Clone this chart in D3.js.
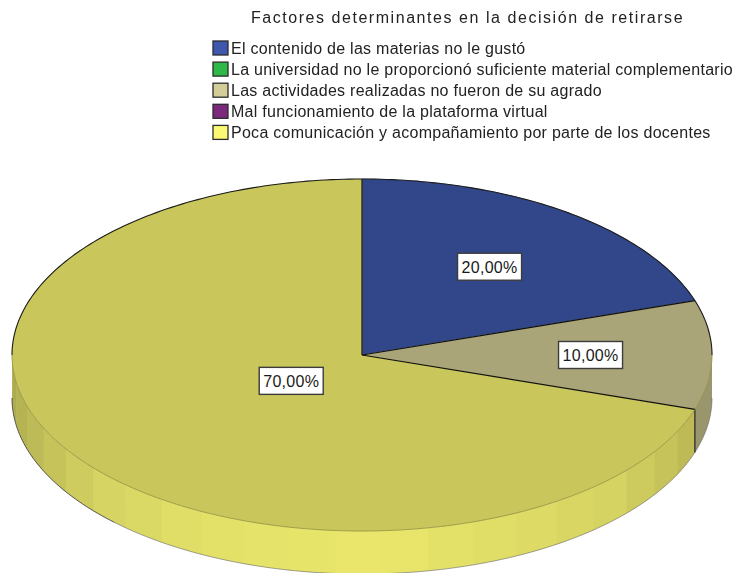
<!DOCTYPE html>
<html lang="es">

<head>
  <meta charset="UTF-8">
  <title>Factores determinantes en la decisión de retirarse</title>
  <style>
    html,
    body {
      margin: 0;
      padding: 0;
      background: #fff;
    }

    svg {
      display: block;
      font-family: "Liberation Sans", Arial, sans-serif;
      /* the reference is a slightly soft, resampled picture */
      filter: blur(0.35px);
    }
  </style>
  <script src="https://cdnjs.cloudflare.com/ajax/libs/d3/7.8.5/d3.min.js"></script>
</head>

<body>
  <svg id="chart" width="738" height="573"></svg>
  <script>
    //
    // Data
    //

    var title = 'Factores determinantes en la decisión de retirarse'
    var categories = [
      'El contenido de las materias no le gustó',
      'La universidad no le proporcionó suficiente material complementario',
      'Las actividades realizadas no fueron de su agrado',
      'Mal funcionamiento de la plataforma virtual',
      'Poca comunicación y acompañamiento por parte de los docentes'
    ]
    var values = [20, 0, 10, 0, 70]
    var colors = ['#3e58ac', '#2eb848', '#d3ce97', '#7c287d', '#fbf873']

    //
    // Layout
    //

    var cx = 362, cy = 355
    var rx = 350, ry = 176
    var depth = 43
    var facetStep = 252 / 33 // degrees per facet on the rim
    var topShade = 0.8
    // how far out each label sits, as a share of the radius
    var labelRadius = [0.62, 0, 0.653, 0, 0.25]

    var svg = d3.select('#chart')
    var deg = Math.PI / 180

    var pie = d3.pie().sort(null).value(function (d) { return d })
    var slices = pie(values)
    var arc = d3.arc().innerRadius(0).outerRadius(rx)

    // rim gets brighter towards the front of the pie
    var rimShade = d3.scaleLinear()
      .domain([90, 108, 135, 176, 207, 228, 243, 270])
      .range([0.71, 0.74, 0.85, 0.93, 0.905, 0.85, 0.78, 0.67])

    function shade(color, k) {
      var c = d3.rgb(color)
      return d3.rgb(c.r * k, c.g * k, c.b * k).formatHex()
    }

    function rimPoint(a) {
      return [cx + rx * Math.sin(a * deg), cy - ry * Math.cos(a * deg)]
    }

    function rimLine(a0, a1, dy) {
      return d3.range(a0, a1, 1).concat([a1]).map(function (a) {
        var p = rimPoint(a)
        return [p[0], p[1] + dy]
      })
    }

    function rimPath(a0, a1) {
      var top = rimLine(a0, a1, 0)
      var bottom = rimLine(a0, a1, depth).reverse()
      return d3.line()(top.concat(bottom)) + 'Z'
    }

    //
    // Rim
    //

    var rim = svg.append('g')

    slices.forEach(function (s, i) {
      var a0 = Math.max(s.startAngle / deg, 90)
      var a1 = Math.min(s.endAngle / deg, 270)
      if (a1 <= a0) return
      var starts = d3.range(a0, a1, facetStep)
      if (i === 2) starts = [a0] // the small slice has one flat tone
      starts.forEach(function (a, j) {
        var end = j === starts.length - 1 ? a1 : starts[j + 1]
        // run each facet a bit under the next one so no seam shows
        rim.append('path')
          .attr('d', rimPath(a, Math.min(end + 0.4, a1)))
          .attr('fill', shade(colors[i], rimShade((a + end) / 2)))
      })
    })

    // outer line of the rim, heavier towards the left end
    rim.append('path')
      .attr('d', d3.line()(rimLine(90, 225, depth)))
      .attr('fill', 'none')
      .attr('stroke', '#666')
      .attr('stroke-width', 0.6)
    rim.append('path')
      .attr('d', d3.line()(rimLine(225, 270, depth)))
      .attr('fill', 'none')
      .attr('stroke', '#333')
      .attr('stroke-width', 0.8)

    // edge where the yellow slice starts
    var edgeTop = rimPoint(slices[4].startAngle / deg)
    rim.append('path')
      .attr('d', d3.line()([edgeTop, [edgeTop[0], edgeTop[1] + depth]]))
      .attr('stroke', '#222')
      .attr('stroke-width', 1.2)

    //
    // Top face
    //

    var face = svg.append('g')
      .attr('transform', 'translate(' + cx + ',' + cy + ') scale(1,' + ry / rx + ')')

    face.selectAll('path')
      .data(slices.filter(function (s) { return s.value > 0 }))
      .join('path')
      .attr('d', arc)
      .attr('fill', function (s) { return shade(colors[s.index], topShade) })
      .attr('stroke', function (s) { return shade(colors[s.index], topShade) })
      .attr('stroke-width', 0.5)
      .attr('vector-effect', 'non-scaling-stroke')

    // dark line round the back of the pie and along the slice edges,
    // the front edge only gets a faint one
    var outlines = svg.append('g').attr('fill', 'none')

    outlines.append('path')
      .attr('d', d3.line()(rimLine(90, 270, 0)))
      .attr('stroke', '#8a8838')
      .attr('stroke-width', 0.7)

    outlines.append('path')
      .attr('d', d3.line()(rimLine(-90, 90, 0)))
      .attr('stroke', '#1c1c1c')
      .attr('stroke-width', 1.1)

    slices.forEach(function (s) {
      if (s.value <= 0) return
      outlines.append('path')
        .attr('d', d3.line()([[cx, cy], rimPoint(s.startAngle / deg)]))
        .attr('stroke', '#111')
        .attr('stroke-width', 1.2)
    })

    //
    // Labels
    //

    var labelFormat = function (v) { return d3.format('.2f')(v).replace('.', ',') + '%' }

    slices.forEach(function (s, i) {
      if (s.value <= 0) return
      var mid = (s.startAngle + s.endAngle) / 2
      var x = cx + rx * labelRadius[i] * Math.sin(mid)
      var y = cy - ry * labelRadius[i] * Math.cos(mid)
      var g = svg.append('g').attr('transform', 'translate(' + x + ',' + y + ')')
      g.append('rect')
        .attr('x', -32).attr('y', -13.5)
        .attr('width', 64).attr('height', 27)
        .attr('fill', '#fff')
        .attr('stroke', '#3c3c3c')
        .attr('stroke-width', 1.4)
      g.append('text')
        .attr('text-anchor', 'middle')
        .attr('y', 6)
        .attr('font-size', 16)
        .attr('letter-spacing', 0.3)
        .attr('fill', '#1a1a1a')
        .text(labelFormat(s.value))
    })

    //
    // Title and legend
    //

    svg.append('text')
      .attr('x', 467.5).attr('y', 23)
      .attr('text-anchor', 'middle')
      .attr('font-size', 16)
      .attr('letter-spacing', 1.55)
      .attr('fill', '#222')
      .text(title)

    var legend = svg.append('g')
      .selectAll('g')
      .data(categories)
      .join('g')
      .attr('transform', function (d, i) { return 'translate(213,' + (41 + i * 21.1) + ')' })

    legend.append('rect')
      .attr('x', 0).attr('y', 0)
      .attr('width', 15).attr('height', 14)
      .attr('fill', function (d, i) { return colors[i] })
      .attr('stroke', '#2c2c2c')
      .attr('stroke-width', 1.3)

    legend.append('text')
      .attr('x', 18).attr('y', 13)
      .attr('font-size', 16)
      .attr('letter-spacing', 0.27)
      .attr('fill', '#222')
      .text(function (d) { return d })
  </script>
</body>

</html>
